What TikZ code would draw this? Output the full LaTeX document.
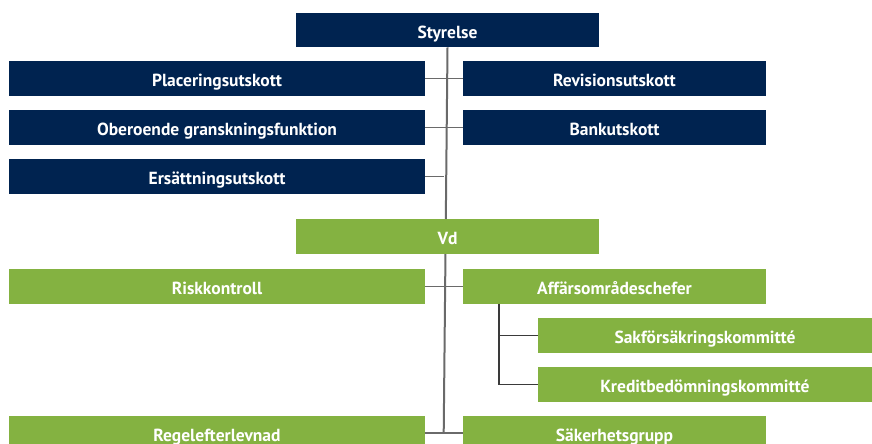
\documentclass[tikz,border=0pt]{standalone}
\usepackage{fontspec}
\setmainfont{PT Sans}
\definecolor{navy}{HTML}{002350}
\definecolor{leaf}{HTML}{84B241}
\definecolor{linegray}{HTML}{6A6A6A}
\definecolor{linedark}{HTML}{3A3A3A}
\begin{document}
\begin{tikzpicture}[x=1pt,y=-1pt,
  orgbox/.style={rectangle, inner sep=0pt, text=white, font=\fontsize{17.5}{20}\selectfont\bfseries, minimum height=34.5pt, text height=16.6pt, text depth=0pt},
  navybox/.style={orgbox, fill=navy},
  greenbox/.style={orgbox, fill=leaf},
  wideL/.style={minimum width=416pt},
  wideR/.style={minimum width=303pt},
  wideS/.style={minimum width=334pt},
  trunk/.style={draw=linegray, line width=2pt},
  branch/.style={draw=linegray, line width=1.8pt},
  subline/.style={draw=linedark, line width=1.5pt}]
\useasboundingbox (0,0) rectangle (872,444);
\clip (0,0) rectangle (872,444);
\coordinate (vbot) at (443.7,433);
\coordinate (subtop) at (499,303.7);
\node[navybox, wideR] (styrelse) at (447.5,30) {Styrelse};
\draw[trunk] (styrelse.south) -- (vbot);
\node[navybox, wideL] (plac) at (217,78.5) {Placeringsutskott};
\node[navybox, wideR] (rev) at (614.5,78.5) {Revisionsutskott};
\node[navybox, wideL] (obe) at (217,127.5) {Oberoende granskningsfunktion};
\node[navybox, wideR] (bank) at (614.5,127.5) {Bankutskott};
\node[navybox, wideL] (ers) at (217,176.5) {Ersättningsutskott};
\node[greenbox, wideR] (vd) at (447.5,236.5) {Vd};
\node[greenbox, wideL] (risk) at (217,286.5) {Riskkontroll};
\node[greenbox, wideR] (aff) at (614.5,286.5) {Affärsområdeschefer};
\node[greenbox, wideS] (sak) at (705,335.5) {Sakförsäkringskommitté};
\node[greenbox, wideS] (kred) at (705,384.5) {Kreditbedömningskommitté};
\node[greenbox, wideL] (reg) at (217,433.2) {Regelefterlevnad};
\node[greenbox, wideR] (sakh) at (614.5,433.2) {Säkerhetsgrupp};
\draw[branch] (plac.east) -- (rev.west);
\draw[branch] (obe.east) -- (bank.west);
\draw[branch] (ers.east) -- (ers.east -| vbot);
\draw[branch] (risk.east) -- (aff.west);
\draw[branch] (reg.east) -- (sakh.west);
\draw[subline] (subtop) |- (kred.west);
\draw[subline] (subtop |- sak.west) -- (sak.west);
\node[greenbox, wideR] at (vd) {Vd};
\end{tikzpicture}
\end{document}
